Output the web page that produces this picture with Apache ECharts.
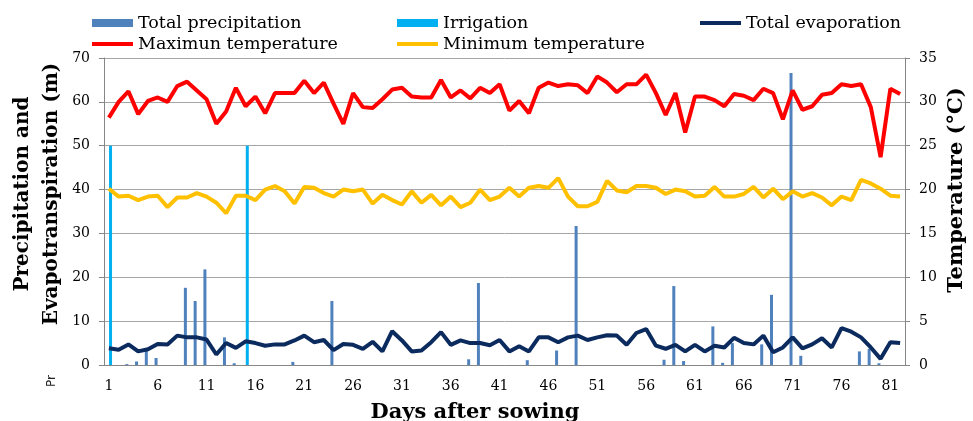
<!DOCTYPE html>
<html>
<head>
<meta charset="utf-8">
<script src="https://cdn.jsdelivr.net/npm/echarts@6/dist/echarts.min.js"></script>
<style>
  html, body { margin: 0; padding: 0; background: #fff; }
  #chart { width: 973px; height: 421px; }
</style>
</head>
<body>
<div id="chart"></div>
<script>
// days after sowing (categories)
const days = [
  1, 2, 3, 4, 5, 6, 7, 8, 9, 10, 11, 12, 13, 14, 15, 16, 17, 18, 19, 20,
  21, 22, 23, 24, 25, 26, 27, 28, 29, 30, 31, 32, 33, 34, 35, 36, 37, 38, 39, 40,
  41, 42, 43, 44, 45, 46, 47, 48, 49, 50, 51, 52, 53, 54, 55, 56, 57, 58, 59, 60,
  61, 62, 63, 64, 65, 66, 67, 68, 69, 70, 71, 72, 73, 74, 75, 76, 77, 78, 79, 80,
  81, 82
];

// precipitation (m), per day
const totalPrecipitation = [
  0, 0, 0.2, 0.8, 3.3, 1.6, 0, 0, 17.6, 14.6,
  21.8, 0, 6.3, 0.4, 0, 0, 0, 0, 0, 0.7,
  0, 0, 0, 14.6, 0, 0, 0, 0, 0, 0,
  0, 0, 0, 0, 0, 0, 0, 1.3, 18.7, 0,
  0, 0, 0, 1.1, 0, 0, 3.3, 0, 31.7, 0,
  0, 0, 0, 0, 0, 0, 0, 1.2, 18.0, 0.9,
  0, 0, 8.8, 0.5, 5.0, 0, 0, 4.7, 16.0, 0,
  66.6, 2.1, 0, 0, 0, 0, 0, 3.1, 3.7, 0.4,
  0, 0
];

const irrigation = [
  50, 0, 0, 0, 0, 0, 0, 0, 0, 0,
  0, 0, 0, 0, 50, 0, 0, 0, 0, 0,
  0, 0, 0, 0, 0, 0, 0, 0, 0, 0,
  0, 0, 0, 0, 0, 0, 0, 0, 0, 0,
  0, 0, 0, 0, 0, 0, 0, 0, 0, 0,
  0, 0, 0, 0, 0, 0, 0, 0, 0, 0,
  0, 0, 0, 0, 0, 0, 0, 0, 0, 0,
  0, 0, 0, 0, 0, 0, 0, 0, 0, 0,
  0, 0
];

const totalEvaporation = [
  3.8, 3.5, 4.7, 3.1, 3.6, 4.8, 4.7, 6.7, 6.3, 6.3,
  5.8, 2.4, 5.0, 3.9, 5.4, 5.0, 4.4, 4.7, 4.7, 5.6,
  6.7, 5.2, 5.7, 3.4, 4.8, 4.6, 3.7, 5.3, 3.1, 7.7,
  5.6, 3.1, 3.3, 5.2, 7.5, 4.6, 5.6, 5.0, 5.0, 4.5,
  5.7, 3.1, 4.3, 3.1, 6.3, 6.3, 5.2, 6.3, 6.7, 5.7,
  6.3, 6.8, 6.7, 4.6, 7.3, 8.2, 4.4, 3.7, 4.6, 3.1,
  4.6, 3.1, 4.4, 4.0, 6.2, 5.0, 4.7, 6.7, 2.9, 4.0,
  6.3, 3.8, 4.7, 6.1, 4.0, 8.4, 7.6, 6.3, 4.0, 1.4,
  5.2, 5.0
];

// temperatures (°C)
const maxTemperature = [
  28.2, 30.0, 31.2, 28.6, 30.1, 30.5, 30.0, 31.8, 32.3, 31.3,
  30.3, 27.5, 28.9, 31.6, 29.5, 30.6, 28.7, 31.0, 31.0, 31.0,
  32.4, 31.0, 32.2, 29.8, 27.5, 31.0, 29.4, 29.3, 30.3, 31.4,
  31.6, 30.6, 30.5, 30.5, 32.5, 30.5, 31.3, 30.4, 31.6, 31.0,
  32.0, 29.0, 30.1, 28.7, 31.6, 32.2, 31.8, 32.0, 31.9, 31.0,
  32.9, 32.2, 31.1, 32.0, 32.0, 33.1, 31.0, 28.5, 31.0, 26.5,
  30.6, 30.6, 30.2, 29.5, 30.9, 30.7, 30.2, 31.5, 31.0, 28.0,
  31.3, 29.1, 29.5, 30.8, 31.0, 32.0, 31.8, 32.0, 29.4, 23.7,
  31.5, 30.9
];

const minTemperature = [
  20.1, 19.2, 19.3, 18.8, 19.2, 19.3, 18.0, 19.1, 19.1, 19.6,
  19.2, 18.5, 17.3, 19.3, 19.3, 18.8, 20.0, 20.4, 19.8, 18.4,
  20.3, 20.2, 19.6, 19.2, 20.0, 19.8, 20.0, 18.4, 19.4, 18.8,
  18.3, 19.8, 18.5, 19.4, 18.2, 19.2, 18.0, 18.5, 20.0, 18.8,
  19.2, 20.2, 19.2, 20.2, 20.4, 20.2, 21.3, 19.2, 18.1, 18.1,
  18.6, 21.0, 19.9, 19.7, 20.4, 20.4, 20.2, 19.5, 20.0, 19.8,
  19.2, 19.3, 20.3, 19.2, 19.2, 19.5, 20.3, 19.1, 20.1, 18.9,
  19.8, 19.2, 19.6, 19.1, 18.2, 19.2, 18.8, 21.1, 20.7, 20.1,
  19.3, 19.2
];

const SERIF = '"DejaVu Serif", serif';
const AXIS_GRAY = '#868686';

const legendText = { fontFamily: SERIF, fontSize: 17.5, color: '#000' };

// one legend per item so each sits in its own column like the original
function legendAt(name, left, top, icon, h) {
  return {
    data: [name],
    left: left,
    top: top,
    icon: icon,
    itemWidth: 41,
    itemHeight: h,
    itemGap: 0,
    padding: 0,
    textStyle: legendText,
    selectedMode: false,
  };
}

const chart = echarts.init(document.getElementById('chart'));

const option = {
  animation: false,
  backgroundColor: '#fff',
  legend: [
    legendAt('Total precipitation', 92, 14, 'rect', 8),
    legendAt('Irrigation', 397, 14, 'rect', 8),
    legendAt('Total evaporation', 700, 14, 'rect', 4),
    legendAt('Maximun temperature', 92, 35, 'rect', 4),
    legendAt('Minimum temperature', 397, 35, 'rect', 4),
  ],
  grid: { left: 104, right: 68, top: 58, bottom: 56 },
  xAxis: {
    type: 'category',
    data: days,
    boundaryGap: true,
    axisLine: { lineStyle: { color: AXIS_GRAY, width: 1 } },
    axisTick: { interval: 4, length: 6, lineStyle: { color: AXIS_GRAY } },
    axisLabel: { interval: 4, fontFamily: SERIF, fontSize: 14, color: '#000', margin: 14 },
    splitLine: { show: false },
  },
  yAxis: [
    {
      type: 'value',
      position: 'left',
      min: 0,
      max: 70,
      interval: 10,
      axisLine: { show: true, lineStyle: { color: AXIS_GRAY } },
      axisTick: { show: true, length: 5, lineStyle: { color: AXIS_GRAY } },
      axisLabel: { fontFamily: SERIF, fontSize: 14, color: '#000', margin: 14 },
      splitLine: { show: true, lineStyle: { color: '#a6a6a6', width: 1 } },
    },
    {
      type: 'value',
      position: 'right',
      min: 0,
      max: 35,
      interval: 5,
      axisLine: { show: true, lineStyle: { color: AXIS_GRAY } },
      axisTick: { show: true, length: 5, lineStyle: { color: AXIS_GRAY } },
      axisLabel: { fontFamily: SERIF, fontSize: 14, color: '#000', margin: 14 },
      splitLine: { show: false },
    },
  ],
  series: [
    {
      name: 'Total precipitation',
      type: 'bar',
      data: totalPrecipitation,
      barWidth: 3,
      barGap: '10%',
      itemStyle: { color: '#4f81bd' },
      z: 2,
    },
    {
      name: 'Irrigation',
      type: 'bar',
      data: irrigation,
      barWidth: 3,
      itemStyle: { color: '#00b0f0' },
      z: 2,
    },
    {
      name: 'Total evaporation',
      type: 'line',
      data: totalEvaporation,
      showSymbol: false,
      lineStyle: { color: '#0b2a5e', width: 4 },
      itemStyle: { color: '#0b2a5e' },
      z: 3,
    },
    {
      name: 'Maximun temperature',
      type: 'line',
      yAxisIndex: 1,
      data: maxTemperature,
      showSymbol: false,
      lineStyle: { color: '#ff0000', width: 4 },
      itemStyle: { color: '#ff0000' },
      z: 3,
    },
    {
      name: 'Minimum temperature',
      type: 'line',
      yAxisIndex: 1,
      data: minTemperature,
      showSymbol: false,
      lineStyle: { color: '#ffc000', width: 4 },
      itemStyle: { color: '#ffc000' },
      z: 3,
    },
  ],
  graphic: [
    {
      type: 'text',
      x: 37,
      y: 194,
      rotation: Math.PI / 2,
      style: {
        text: 'Precipitation and\nEvapotranspiration (m)',
        font: 'bold 20px "DejaVu Serif"',
        align: 'center',
        verticalAlign: 'middle',
        lineHeight: 29,
        fill: '#000',
      },
    },
    {
      type: 'text',
      x: 957,
      y: 190,
      rotation: Math.PI / 2,
      style: {
        text: 'Temperature (°C)',
        font: 'bold 21px "DejaVu Serif"',
        align: 'center',
        verticalAlign: 'middle',
        fill: '#000',
      },
    },
    {
      type: 'text',
      x: 475,
      y: 413,
      style: {
        text: 'Days after sowing',
        font: 'bold 21px "DejaVu Serif"',
        align: 'center',
        verticalAlign: 'middle',
        fill: '#000',
      },
    },
    {
      type: 'text',
      x: 52,
      y: 381,
      rotation: Math.PI / 2,
      style: {
        text: 'Pr',
        font: '12px "DejaVu Sans"',
        align: 'center',
        verticalAlign: 'middle',
        fill: '#222',
      },
    },
  ],
};

chart.setOption(option);
</script>
</body>
</html>
